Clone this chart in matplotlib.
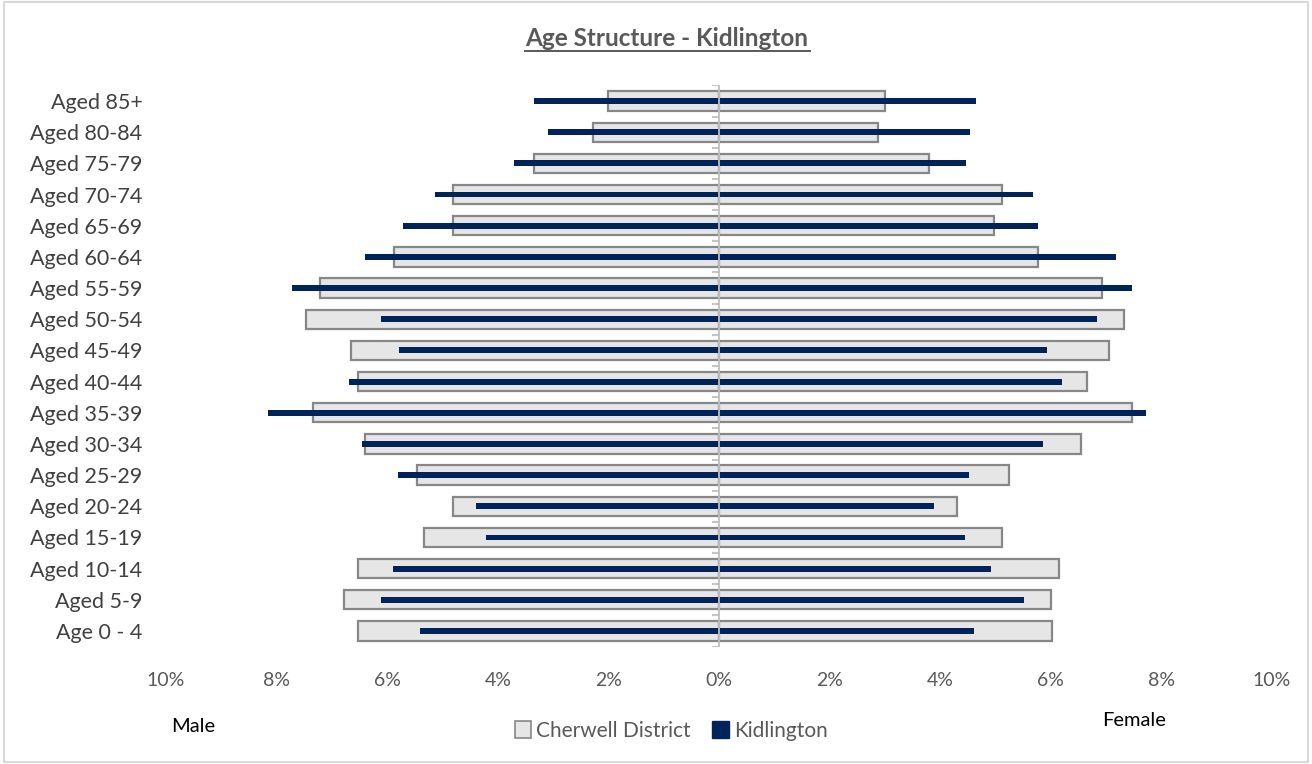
import numpy as np
import matplotlib
matplotlib.use("Agg")
import matplotlib.pyplot as plt
from matplotlib.patches import Patch, Rectangle
from matplotlib.lines import Line2D

plt.rcParams['font.family'] = ['Lato', 'DejaVu Sans']

ages = ['Aged 85+', 'Aged 80-84', 'Aged 75-79', 'Aged 70-74', 'Aged 65-69',
        'Aged 60-64', 'Aged 55-59', 'Aged 50-54', 'Aged 45-49', 'Aged 40-44',
        'Aged 35-39', 'Aged 30-34', 'Aged 25-29', 'Aged 20-24', 'Aged 15-19',
        'Aged 10-14', 'Aged 5-9', 'Age 0 - 4']

# percent of population, top (85+) to bottom (0-4)
cherwell_male = [2.00, 2.27, 3.34, 4.81, 4.81, 5.87, 7.21, 7.47, 6.66, 6.53,
                 7.34, 6.40, 5.47, 4.81, 5.34, 6.53, 6.79, 6.53]
cherwell_female = [3.00, 2.87, 3.80, 5.11, 4.97, 5.76, 6.92, 7.32, 7.05, 6.66,
                   7.46, 6.54, 5.24, 4.31, 5.11, 6.15, 6.01, 6.02]
kid_male = [3.35, 3.09, 3.71, 5.14, 5.71, 6.41, 7.73, 6.11, 5.78, 6.69,
            8.15, 6.46, 5.80, 4.39, 4.21, 5.90, 6.11, 5.40]
kid_female = [4.64, 4.54, 4.47, 5.68, 5.77, 7.17, 7.46, 6.84, 5.94, 6.21,
              7.73, 5.86, 4.52, 3.88, 4.44, 4.91, 5.52, 4.62]

xticks = [-10, -8, -6, -4, -2, 0, 2, 4, 6, 8, 10]

navy = '#00245a'
grey_fill = '#e6e6e6'
grey_edge = '#878787'

fig = plt.figure(figsize=(13.12, 7.64), dpi=100)
ax = fig.add_axes([166/1312, 1-646.6/764, (1272-166)/1312, (646.6-85.4)/764])

y = np.arange(len(ages))
ax.barh(y, -np.array(cherwell_male), height=0.62, color=grey_fill, edgecolor=grey_edge, linewidth=1.6, zorder=2)
ax.barh(y, np.array(cherwell_female), height=0.62, color=grey_fill, edgecolor=grey_edge, linewidth=1.6, zorder=2)
ax.barh(y, -np.array(kid_male), height=0.19, color=navy, zorder=3)
ax.barh(y, np.array(kid_female), height=0.19, color=navy, zorder=3)

ax.set_xlim(-10, 10)
ax.set_ylim(len(ages)-0.5, -0.5)
ax.set_yticks(y)
ax.set_yticklabels(ages, fontsize=15.5, color='#404040')
ax.set_xticks(xticks)
ax.set_xticklabels([f'{abs(v)}%' for v in xticks], fontsize=14, color='#595959')
ax.tick_params(axis='both', length=0)
ax.tick_params(axis='y', pad=17)
ax.tick_params(axis='x', pad=18)
for s in ax.spines.values():
    s.set_visible(False)

# vertical category axis at zero with small boundary ticks
ax.axvline(0, color='#bfbfbf', linewidth=1.3, zorder=4)
bounds = np.arange(len(ages)+1) - 0.5
ax.hlines(bounds, -0.12, 0, color='#bfbfbf', linewidth=1.3, zorder=4)

# title with underline
fig.text(667/1312, 1-39/764, 'Age Structure - Kidlington', ha='center', va='center',
         fontsize=17.5, fontweight='bold', color='#595959')
fig.add_artist(Line2D([525/1312, 810/1312], [1-51/764, 1-51/764], color='#595959', linewidth=1.4))

fig.text(193/1312, 1-727/764, 'Male', ha='center', va='center', fontsize=14.5, color='black')
fig.text(1134/1312, 1-720/764, 'Female', ha='center', va='center', fontsize=14.5, color='black')

handles = [Patch(facecolor=grey_fill, edgecolor=grey_edge, linewidth=1.2, label='Cherwell District'),
           Patch(facecolor=navy, edgecolor=navy, label='Kidlington')]
fig.legend(handles=handles, loc='center', bbox_to_anchor=(671/1312, 1-731/764), ncol=2,
           frameon=False, fontsize=15, handlelength=0.8, handleheight=0.9,
           handletextpad=0.25, columnspacing=1.0, labelcolor='#595959')

# outer chart border
fig.add_artist(Rectangle((0.003, 0.003), 0.994, 0.994, transform=fig.transFigure,
                         fill=False, edgecolor='#d9d9d9', linewidth=1.5))

fig.savefig('out.png', dpi=100)
